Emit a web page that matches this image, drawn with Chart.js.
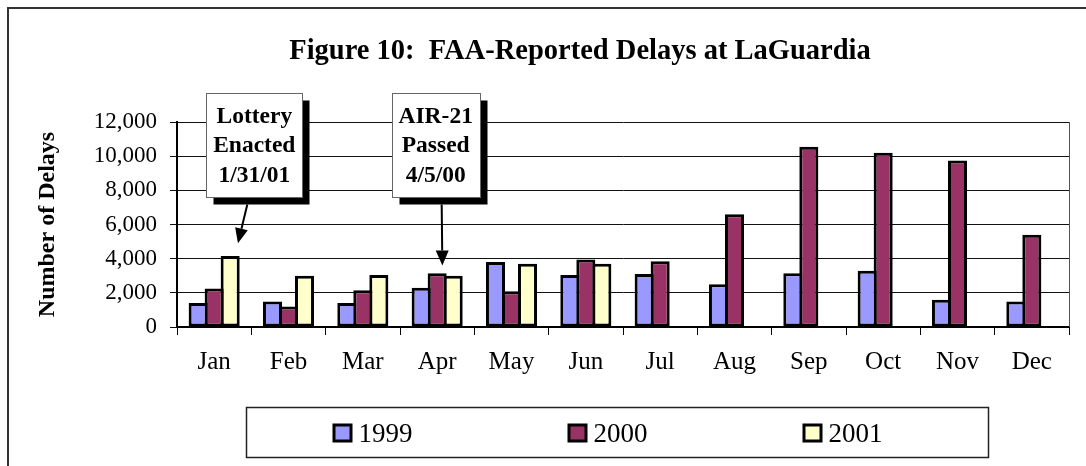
<!DOCTYPE html>
<html>
<head>
<meta charset="utf-8">
<script src="https://cdn.jsdelivr.net/npm/chart.js@4.4.1/dist/chart.umd.min.js"></script>
<style>
  html, body { margin: 0; padding: 0; background: #fff; }
  #wrap { width: 1086px; height: 466px; position: relative; }
</style>
</head>
<body>
<div id="wrap"><canvas id="delayChart" width="1086" height="466"></canvas></div>
<script>
// FAA-reported delays at LaGuardia
const months = ['Jan', 'Feb', 'Mar', 'Apr', 'May', 'Jun', 'Jul', 'Aug', 'Sep', 'Oct', 'Nov', 'Dec'];
const delays1999 = [1400, 1500, 1400, 2300, 3800, 3050, 3100, 2500, 3150, 3300, 1600, 1500];
const delays2000 = [2250, 1200, 2150, 3150, 2100, 3950, 3850, 6600, 10550, 10200, 9750, 5400];
const delays2001 = [4150, 3000, 3050, 3000, 3700, 3700, null, null, null, null, null, null];
const seriesLabels = ['1999', '2000', '2001'];
const seriesColors = ['#9999FF', '#993366', '#FFFFCC'];
const yTicks = { min: 0, max: 12000, step: 2000 };

// call-out boxes: text, which month the box / arrow belong to
const callouts = [
  { lines: ['Lottery', 'Enacted', '1/31/01'], month: 0, boxShift: 0.54, tailShift: -7, tipShift: 0.32, tipValue: 4900 },
  { lines: ['AIR-21', 'Passed', '4/5/00'], month: 3, boxShift: -0.02, tailShift: 6, tipShift: 0.07, tipValue: 3600 }
];

const SERIF = "'Liberation Serif', 'Times New Roman', serif";

const framePlugin = {
  id: 'frame',
  beforeDraw(chart) {
    const ctx = chart.ctx;
    ctx.save();
    ctx.fillStyle = '#fff';
    ctx.fillRect(0, 0, chart.width, chart.height);
    ctx.strokeStyle = '#333';
    ctx.lineWidth = 2;
    ctx.beginPath();
    ctx.moveTo(8, chart.height);
    ctx.lineTo(8, 8);
    ctx.lineTo(chart.width, 8);
    ctx.stroke();

    // title
    ctx.fillStyle = '#000';
    ctx.font = 'bold 28.5px ' + SERIF;
    ctx.textAlign = 'center';
    ctx.textBaseline = 'alphabetic';
    ctx.fillText('Figure 10:  FAA-Reported Delays at LaGuardia', 580, 59);
    ctx.restore();
  },
  afterDraw(chart) {
    const ctx = chart.ctx;
    const area = chart.chartArea;
    ctx.save();
    // right edge of plot area
    ctx.strokeStyle = '#555';
    ctx.lineWidth = 1;
    ctx.beginPath();
    ctx.moveTo(area.right + 0.5, area.top);
    ctx.lineTo(area.right + 0.5, area.bottom);
    ctx.stroke();

    // legend box
    const bx = 246.5, by = 407.5, bw = 742, bh = 50;
    ctx.strokeStyle = '#222';
    ctx.lineWidth = 1.5;
    ctx.strokeRect(bx, by, bw, bh);
    ctx.font = '27px ' + SERIF;
    ctx.textAlign = 'left';
    ctx.textBaseline = 'alphabetic';
    chart.data.datasets.forEach((ds, i) => {
      const sx = bx + 86 + i * 235;
      const sy = by + 16;
      ctx.fillStyle = '#000';
      ctx.fillRect(sx, sy, 20, 19);
      ctx.fillStyle = ds.backgroundColor;
      ctx.fillRect(sx + 3, sy + 3, 14, 13);
      ctx.fillStyle = '#000';
      ctx.fillText(ds.label, sx + 26, by + 34);
    });
    ctx.restore();
  }
};

const calloutPlugin = {
  id: 'callouts',
  afterDatasetsDraw(chart) {
    const ctx = chart.ctx;
    const xs = chart.scales.x;
    const ys = chart.scales.y;
    const catW = xs.getPixelForValue(1) - xs.getPixelForValue(0);
    ctx.save();
    callouts.forEach(c => {
      const cx = xs.getPixelForValue(c.month) + c.boxShift * catW;
      ctx.font = 'bold 23.5px ' + SERIF;
      const tw = Math.max(...c.lines.map(l => ctx.measureText(l).width));
      const w = Math.round(tw + 14);
      const h = 104;
      const left = Math.round(cx - w / 2) + 0.5;
      const top = 93.5;
      // shadow, then the box
      ctx.fillStyle = '#000';
      ctx.fillRect(left + 7, top + 7, w, h);
      ctx.fillStyle = '#fff';
      ctx.fillRect(left, top, w, h);
      ctx.strokeStyle = '#666';
      ctx.lineWidth = 1;
      ctx.strokeRect(left, top, w, h);
      ctx.fillStyle = '#000';
      ctx.textAlign = 'center';
      ctx.textBaseline = 'alphabetic';
      c.lines.forEach((l, i) => ctx.fillText(l, cx, top + 29 + i * 29.7));

      // arrow from under the box down to the bar
      const startX = cx + c.tailShift;
      const startY = top + h + 7;
      const tipX = xs.getPixelForValue(c.month) + c.tipShift * catW;
      const tipY = ys.getPixelForValue(c.tipValue);
      const ang = Math.atan2(tipY - startY, tipX - startX);
      const headLen = 15, headW = 6.5;
      const baseX = tipX - headLen * Math.cos(ang);
      const baseY = tipY - headLen * Math.sin(ang);
      ctx.strokeStyle = '#000';
      ctx.lineWidth = 2;
      ctx.beginPath();
      ctx.moveTo(startX, startY);
      ctx.lineTo(baseX, baseY);
      ctx.stroke();
      ctx.beginPath();
      ctx.moveTo(tipX, tipY);
      ctx.lineTo(baseX + headW * Math.sin(ang), baseY - headW * Math.cos(ang));
      ctx.lineTo(baseX - headW * Math.sin(ang), baseY + headW * Math.cos(ang));
      ctx.closePath();
      ctx.fill();
    });
    ctx.restore();
  }
};

const datasets = [delays1999, delays2000, delays2001].map((vals, i) => ({
  label: seriesLabels[i],
  data: vals,
  backgroundColor: seriesColors[i],
  borderColor: '#000',
  borderWidth: 3,
  borderSkipped: false,
  categoryPercentage: 0.646,
  barPercentage: 1.19
}));

new Chart(document.getElementById('delayChart'), {
  type: 'bar',
  data: { labels: months, datasets: datasets },
  options: {
    responsive: false,
    animation: false,
    layout: { padding: { left: 0, top: 122, right: 17, bottom: 89 } },
    plugins: {
      legend: { display: false },
      title: { display: false },
      tooltip: { enabled: false }
    },
    scales: {
      x: {
        grid: { offset: true, drawOnChartArea: false, drawTicks: true, tickLength: 8, color: '#000' },
        border: { display: true, color: '#000', width: 2 },
        ticks: { color: '#000', font: { family: SERIF, size: 25 }, padding: 12, maxRotation: 0 },
        afterFit(scale) { scale.height = 50; }
      },
      y: {
        min: yTicks.min,
        max: yTicks.max,
        ticks: {
          stepSize: yTicks.step,
          color: '#000',
          font: { family: SERIF, size: 23 },
          padding: 13,
          callback: v => v.toLocaleString('en-US')
        },
        grid: { color: '#111', lineWidth: 1, drawTicks: true, tickLength: 7 },
        border: { display: true, color: '#000', width: 2 },
        title: {
          display: true,
          text: 'Number of Delays',
          color: '#000',
          font: { family: SERIF, size: 24, weight: 'bold' },
          padding: { top: 33, bottom: 0 }
        },
        afterFit(scale) { scale.width = 177; }
      }
    }
  },
  plugins: [framePlugin, calloutPlugin]
});
</script>
</body>
</html>
